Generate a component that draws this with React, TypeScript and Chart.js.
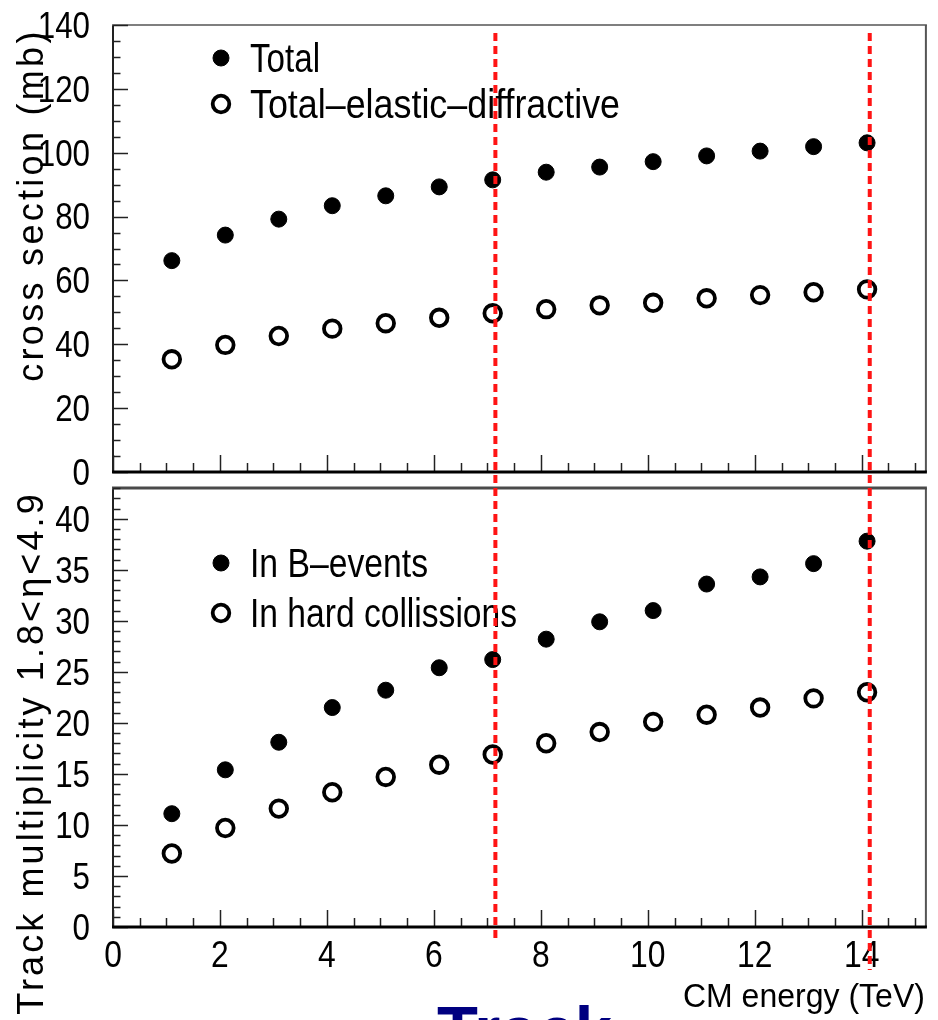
import { useEffect, useRef } from "react";
import { Chart, registerables } from "chart.js";

Chart.register(...registerables);

// Centre-of-mass energies (TeV) at which the model was evaluated
const energies = [1.1, 2.1, 3.1, 4.1, 5.1, 6.1, 7.1, 8.1, 9.1, 10.1, 11.1, 12.1, 13.1, 14.1];

// Upper panel: cross sections (mb)
const totalXsec = [66.2, 74.2, 79.2, 83.4, 86.5, 89.3, 91.5, 93.9, 95.5, 97.2, 99.0, 100.5, 101.9, 103.1];
const inelasticNdXsec = [35.3, 39.8, 42.6, 44.9, 46.6, 48.3, 49.7, 51.0, 52.2, 53.0, 54.4, 55.4, 56.3, 57.2];

// Lower panel: mean track multiplicity in 1.8 < eta < 4.9
const multBEvents = [11.1, 15.4, 18.1, 21.5, 23.2, 25.4, 26.2, 28.2, 29.9, 31.0, 33.6, 34.3, 35.6, 37.8];
const multHardColl = [7.2, 9.7, 11.6, 13.2, 14.7, 15.9, 16.9, 18.0, 19.1, 20.1, 20.8, 21.5, 22.4, 23.0];

// Marked running energies (TeV)
const markedEnergies = [7.15, 14.15];

// Axes
const xRange = [0, 15.2];
const xTicks = [0, 2, 4, 6, 8, 10, 12, 14];
const xMinorStep = 0.5;
const topYRange = [0, 140];
const topYTicks = [0, 20, 40, 60, 80, 100, 120, 140];
const topYMinorStep = 5;
const bottomYRange = [0, 43];
const bottomYTicks = [0, 5, 10, 15, 20, 25, 30, 35, 40];
const bottomYMinorStep = 1;

const topLabels = ["Total", "Total\u2013elastic\u2013diffractive"];
const bottomLabels = ["In B\u2013events", "In hard collissions"];
const topYTitle = "cross section (mb)";
const bottomYTitle = "Track multiplicity 1.8<\u03b7<4.9";
const xTitle = "CM energy (TeV)";

const FAMILY = '"Liberation Sans", Arial, Helvetica, sans-serif';

type TextOpts = {
  align?: CanvasTextAlign;
  sx?: number;
  width?: number;
  rotate?: number;
  spacing?: number;
  color?: string;
};

function drawText(ctx: CanvasRenderingContext2D, text: string, x: number, y: number, font: string, o: TextOpts = {}) {
  ctx.save();
  ctx.font = font;
  (ctx as any).letterSpacing = (o.spacing ?? 0) + "px";
  let sx = o.sx ?? 1;
  if (o.width) sx = o.width / ctx.measureText(text).width;
  ctx.translate(x, y);
  if (o.rotate) ctx.rotate(o.rotate);
  ctx.scale(sx, 1);
  ctx.textAlign = o.align ?? "left";
  ctx.textBaseline = "alphabetic";
  ctx.fillStyle = o.color ?? "#000";
  ctx.fillText(text, 0, 0);
  ctx.restore();
}

type PanelSpec = {
  yTicks: number[];
  yMinor: number;
  showXLabels: boolean;
  labels: string[];
  labelWidths: number[];
  legendRowY: number[];
  yTitle: string;
  yTitleCenter: number;
  yTitleSpacing: number;
  topFrame: { width: number; color: string };
  markedSpan: (chartArea: { top: number; bottom: number }) => [number, number][];
  dashOffset: number;
};

function panelDecor(spec: PanelSpec) {
  return {
    id: "panelDecor",
    afterDatasetsDraw(chart: any) {
      const { ctx, chartArea: a, scales } = chart;
      const x = scales.x;
      const y = scales.y;
      ctx.save();

      // frame: left, top, right
      ctx.lineCap = "butt";
      ctx.strokeStyle = "#555";
      ctx.lineWidth = 2;
      ctx.beginPath();
      ctx.moveTo(a.right, a.top);
      ctx.lineTo(a.right, a.bottom);
      ctx.stroke();
      ctx.strokeStyle = "#222";
      ctx.beginPath();
      ctx.moveTo(a.left, a.top);
      ctx.lineTo(a.left, a.bottom);
      ctx.stroke();
      ctx.strokeStyle = spec.topFrame.color;
      ctx.lineWidth = spec.topFrame.width;
      ctx.beginPath();
      ctx.moveTo(a.left - 1, a.top);
      ctx.lineTo(a.right + 1, a.top);
      ctx.stroke();

      // y ticks (inward)
      ctx.strokeStyle = "#222";
      ctx.lineWidth = 1.5;
      const nY = Math.round((y.max - y.min) / spec.yMinor);
      for (let i = 0; i <= nY; i++) {
        const v = y.min + i * spec.yMinor;
        const py = Math.round(y.getPixelForValue(v)) + 0.5;
        const major = spec.yTicks.some((t) => Math.abs(t - v) < 1e-6);
        ctx.beginPath();
        ctx.moveTo(a.left, py);
        ctx.lineTo(a.left + (major ? 15 : 7.5), py);
        ctx.stroke();
      }

      // x ticks (inward)
      const nX = Math.floor((x.max - x.min) / xMinorStep + 1e-6);
      for (let i = 0; i <= nX; i++) {
        const v = x.min + i * xMinorStep;
        const px = Math.round(x.getPixelForValue(v)) + 0.5;
        const major = xTicks.some((t) => Math.abs(t - v) < 1e-6);
        ctx.beginPath();
        ctx.moveTo(px, a.bottom);
        ctx.lineTo(px, a.bottom - (major ? 17 : 9));
        ctx.stroke();
      }

      // thick x axis line
      ctx.strokeStyle = "#000";
      ctx.lineWidth = 3;
      ctx.beginPath();
      ctx.moveTo(a.left - 1, a.bottom);
      ctx.lineTo(a.right + 1, a.bottom);
      ctx.stroke();

      // y tick labels
      const tickFont = `36px ${FAMILY}`;
      y.ticks.forEach((t: any) => {
        const py = y.getPixelForValue(t.value);
        drawText(ctx, String(t.value), 90, py + 12.9, tickFont, { align: "right", sx: 0.87 });
      });

      // x tick labels and title
      if (spec.showXLabels) {
        x.ticks.forEach((t: any) => {
          const px = x.getPixelForValue(t.value);
          drawText(ctx, String(t.value), px, a.bottom + 40, `37px ${FAMILY}`, { align: "center", sx: 0.86 });
        });
        drawText(ctx, xTitle, a.right - 1, a.bottom + 80, `34px ${FAMILY}`, { align: "right", width: 242 });
      }

      // y title
      drawText(ctx, spec.yTitle, 43, spec.yTitleCenter, `36px ${FAMILY}`, {
        align: "center",
        rotate: -Math.PI / 2,
        spacing: spec.yTitleSpacing,
      });

      // legend
      chart.data.datasets.forEach((ds: any, i: number) => {
        const cy = spec.legendRowY[i];
        ctx.beginPath();
        ctx.arc(221, cy, ds.pointRadius, 0, Math.PI * 2);
        if (ds.pointBackgroundColor !== "rgba(0,0,0,0)") {
          ctx.fillStyle = ds.pointBackgroundColor;
          ctx.fill();
        }
        ctx.lineWidth = ds.pointBorderWidth;
        ctx.strokeStyle = ds.pointBorderColor;
        ctx.stroke();
        drawText(ctx, spec.labels[i], 250, cy + 14, `40px ${FAMILY}`, { width: spec.labelWidths[i] });
      });

      // marked energies
      ctx.strokeStyle = "#ff1414";
      ctx.lineWidth = 4;
      ctx.setLineDash([8, 5]);
      ctx.lineDashOffset = spec.dashOffset;
      const spans = spec.markedSpan(a);
      markedEnergies.forEach((e, i) => {
        const px = x.getPixelForValue(e);
        ctx.beginPath();
        ctx.moveTo(px, spans[i][0]);
        ctx.lineTo(px, spans[i][1]);
        ctx.stroke();
      });
      ctx.restore();
    },
  };
}

function makeDatasets(labels: string[], filled: number[], open: number[]) {
  return [
    {
      label: labels[0],
      data: energies.map((e, i) => ({ x: e, y: filled[i] })),
      pointRadius: 8,
      pointBackgroundColor: "#000",
      pointBorderColor: "#000",
      pointBorderWidth: 1,
      showLine: false,
    },
    {
      label: labels[1],
      data: energies.map((e, i) => ({ x: e, y: open[i] })),
      pointRadius: 8.3,
      pointBackgroundColor: "rgba(0,0,0,0)",
      pointBorderColor: "#000",
      pointBorderWidth: 3.8,
      showLine: false,
    },
  ];
}

function makeConfig(datasets: any[], yRange: number[], yTicks: number[], padding: any, spec: PanelSpec): any {
  return {
    type: "scatter",
    data: { datasets },
    options: {
      responsive: false,
      animation: false,
      events: [],
      layout: { padding },
      scales: {
        x: {
          type: "linear",
          display: false,
          min: xRange[0],
          max: xRange[1],
          afterBuildTicks: (s: any) => {
            s.ticks = xTicks.map((v) => ({ value: v }));
          },
        },
        y: {
          type: "linear",
          display: false,
          min: yRange[0],
          max: yRange[1],
          afterBuildTicks: (s: any) => {
            s.ticks = yTicks.map((v) => ({ value: v }));
          },
        },
      },
      plugins: { legend: { display: false }, tooltip: { enabled: false } },
    },
    plugins: [panelDecor(spec)],
  };
}

export default function App() {
  const topRef = useRef<HTMLCanvasElement>(null);
  const bottomRef = useRef<HTMLCanvasElement>(null);

  useEffect(() => {
    const top = new Chart(
      topRef.current!,
      makeConfig(
        makeDatasets(topLabels, totalXsec, inelasticNdXsec),
        topYRange,
        topYTicks,
        { left: 113, right: 5, top: 25, bottom: 28 },
        {
          yTicks: topYTicks,
          yMinor: topYMinorStep,
          showXLabels: false,
          labels: topLabels,
          labelWidths: [70, 370],
          legendRowY: [58, 104],
          yTitle: topYTitle,
          yTitleCenter: 205,
          yTitleSpacing: 3.3,
          topFrame: { width: 1.6, color: "#555" },
          markedSpan: () => [
            [33, 480],
            [33, 480],
          ],
          dashOffset: 0,
        }
      )
    );
    const bottom = new Chart(
      bottomRef.current!,
      makeConfig(
        makeDatasets(bottomLabels, multBEvents, multHardColl),
        bottomYRange,
        bottomYTicks,
        { left: 113, right: 5, top: 4, bottom: 93 },
        {
          yTicks: bottomYTicks,
          yMinor: bottomYMinorStep,
          showXLabels: true,
          labels: bottomLabels,
          labelWidths: [178, 267],
          legendRowY: [87, 137],
          yTitle: bottomYTitle,
          yTitleCenter: 277,
          yTitleSpacing: 3.1,
          topFrame: { width: 3, color: "#4a4a4a" },
          markedSpan: (a) => [
            [4, a.bottom + 15],
            [4, a.bottom + 43],
          ],
          dashOffset: 5,
        }
      )
    );
    return () => {
      top.destroy();
      bottom.destroy();
    };
  }, []);

  return (
    <div
      style={{
        position: "absolute",
        left: 0,
        top: 0,
        width: 938,
        height: 1020,
        overflow: "hidden",
        background: "#fff",
      }}
    >
      <canvas ref={topRef} width={938} height={500} style={{ position: "absolute", left: 0, top: 0 }} />
      <canvas ref={bottomRef} width={938} height={544} style={{ position: "absolute", left: 0, top: 476 }} />
      <div
        style={{
          position: "absolute",
          left: 437,
          top: 996,
          fontFamily: FAMILY,
          fontWeight: "bold",
          fontSize: 67,
          lineHeight: "67px",
          color: "#000080",
          whiteSpace: "nowrap",
        }}
      >
        Track
      </div>
    </div>
  );
}
